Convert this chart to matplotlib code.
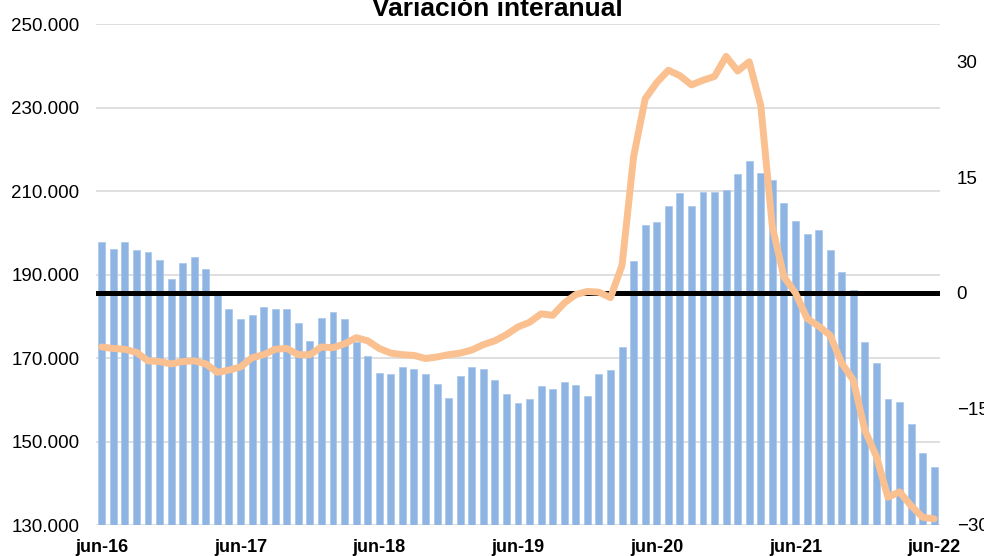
import matplotlib
matplotlib.use('Agg')
import matplotlib.pyplot as plt
from matplotlib.ticker import FuncFormatter
import numpy as np

plt.rcParams['font.family'] = ['Liberation Sans', 'DejaVu Sans']

# Datos mensuales jun-16 .. jun-22
meses_es = ['ene', 'feb', 'mar', 'abr', 'may', 'jun', 'jul', 'ago', 'sep', 'oct', 'nov', 'dic']
meses = [f'{meses_es[(5 + i) % 12]}-{16 + (5 + i) // 12}' for i in range(73)]

valores = [197700, 196100, 197700, 195900, 195300, 193500, 188900, 192800, 194200, 191400,
           185600, 181700, 179300, 180200, 182200, 181700, 181700, 178300, 174100, 179600,
           180900, 179300, 173800, 170500, 166300, 166200, 167800, 167300, 166200, 163800,
           160300, 165800, 167800, 167400, 164700, 161300, 159200, 160100, 163400, 162500,
           164200, 163500, 160900, 166200, 167100, 172600, 193200, 201900, 202600, 206500,
           209500, 206500, 209700, 209800, 210300, 214100, 217200, 214400, 212600, 207200,
           202900, 199800, 200600, 195800, 190500, 186300, 173800, 168700, 160200, 159400,
           154100, 147300, 143800]

var_interanual = [-7.0, -7.2, -7.3, -7.7, -8.8, -8.9, -9.2, -8.9, -8.8, -9.2,
                  -10.3, -10.0, -9.6, -8.4, -8.0, -7.3, -7.2, -8.0, -8.0, -7.0,
                  -7.1, -6.6, -5.8, -6.2, -7.2, -7.8, -8.0, -8.1, -8.5, -8.3,
                  -8.0, -7.8, -7.4, -6.7, -6.2, -5.4, -4.4, -3.8, -2.7, -2.9,
                  -1.3, -0.2, 0.2, 0.1, -0.6, 3.6, 17.7, 25.2, 27.3, 28.9,
                  28.2, 27.0, 27.6, 28.1, 30.7, 28.8, 30.0, 24.3, 8.6, 2.1,
                  0.0, -3.3, -4.3, -5.5, -9.1, -11.3, -17.8, -21.2, -26.5, -25.8,
                  -27.6, -29.1, -29.3]

ticks_x = [m for m in meses if m.startswith('jun')]

x = np.arange(len(meses))

fig = plt.figure(figsize=(9.84, 5.56), dpi=100)
ax = fig.add_axes([96 / 984, 31 / 556, 844 / 984, 501 / 556])

ax.bar(x, valores, width=0.6, color='#8EB4E3', edgecolor='#A9C6EA', linewidth=0.5, zorder=2)
ax.set_ylim(130000, 250000)
ax.set_xlim(-0.5, len(meses) - 0.5)
ax.set_yticks(np.arange(130000, 250001, 20000))
ax.yaxis.set_major_formatter(FuncFormatter(lambda v, p: f'{v:,.0f}'.replace(',', '.')))
ax.grid(axis='y', color='#D9D9D9', linewidth=1.2, zorder=0)
ax.set_axisbelow(True)
ax.set_xticks([meses.index(t) for t in ticks_x])
ax.set_xticklabels(ticks_x, fontweight='bold', fontsize=13)
ax.tick_params(axis='y', labelsize=13.5, length=0, pad=12)
ax.tick_params(axis='x', length=0, pad=10)
for s in ax.spines.values():
    s.set_visible(False)

ax2 = ax.twinx()
ax2.set_ylim(-30.1, 34.9)
ax2.set_yticks([-30, -15, 0, 15, 30])
ax2.tick_params(axis='y', labelsize=13.5, length=0, pad=12)
for s in ax2.spines.values():
    s.set_visible(False)
ax2.axhline(0, color='black', linewidth=3.6, zorder=3)
ax2.plot(x, var_interanual, color='#FAC090', linewidth=5, solid_joinstyle='round',
         solid_capstyle='round', zorder=4)

fig.text(497 / 984, 1 - 16 / 556, 'Variación interanual', ha='center', va='baseline',
         fontsize=19, fontweight='bold')

fig.savefig('out.png', dpi=100)
